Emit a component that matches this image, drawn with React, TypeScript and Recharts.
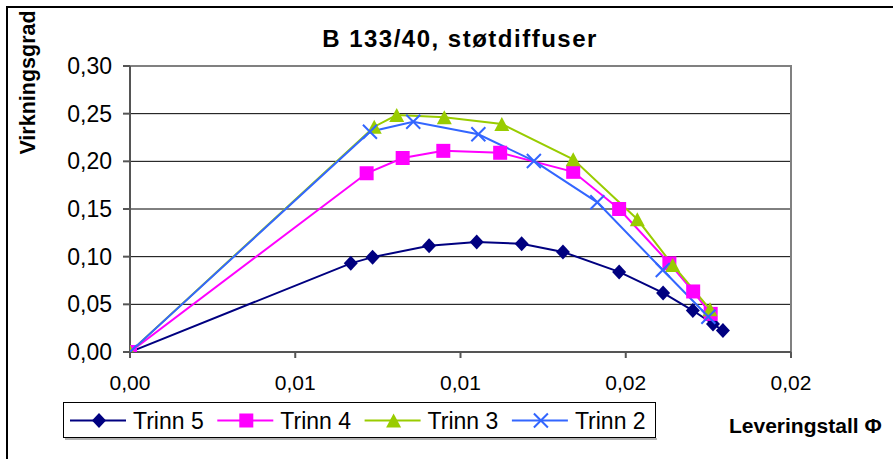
import React from 'react';
import { LineChart, Line, XAxis, YAxis, CartesianGrid, ReferenceArea } from 'recharts';

// Leveringstall (x) and virkningsgrad (y) per trinn
const trinn5X = [0, 0.00668, 0.00734, 0.00905, 0.01049, 0.01185, 0.0131, 0.0148, 0.01613, 0.01703, 0.01764, 0.01794];
const trinn5Y = [0, 0.093, 0.0995, 0.1115, 0.1155, 0.1135, 0.105, 0.084, 0.062, 0.0435, 0.0295, 0.0225];

const trinn4X = [0, 0.00716, 0.00825, 0.00948, 0.0112, 0.01341, 0.0148, 0.01632, 0.01704, 0.01757];
const trinn4Y = [0, 0.1875, 0.2035, 0.211, 0.209, 0.189, 0.15, 0.093, 0.0635, 0.04];

const trinn3X = [0, 0.00739, 0.00807, 0.00951, 0.01125, 0.01341, 0.01535, 0.01642, 0.01755];
const trinn3Y = [0, 0.2363, 0.2486, 0.2462, 0.2392, 0.2021, 0.1392, 0.0913, 0.0448];

const trinn2X = [0, 0.00726, 0.00857, 0.01054, 0.01222, 0.01414, 0.01612, 0.0175];
const trinn2Y = [0, 0.231, 0.2416, 0.2284, 0.2004, 0.157, 0.086, 0.037];

const xTicks = [0, 0.005, 0.01, 0.015, 0.02];
const xTickLabels = ['0,00', '0,01', '0,01', '0,02', '0,02'];
const yTicks = [0, 0.05, 0.1, 0.15, 0.2, 0.25, 0.3];
const yTickLabels = ['0,00', '0,05', '0,10', '0,15', '0,20', '0,25', '0,30'];

const zip = (xs: number[], ys: number[]) => xs.map((x, i) => ({ x, y: ys[i] }));

const series = [
  { name: 'Trinn 5', color: '#000080', shape: 'diamond', data: zip(trinn5X, trinn5Y) },
  { name: 'Trinn 4', color: '#FF00FF', shape: 'square', data: zip(trinn4X, trinn4Y) },
  { name: 'Trinn 3', color: '#99CC00', shape: 'triangle', data: zip(trinn3X, trinn3Y) },
  { name: 'Trinn 2', color: '#3366FF', shape: 'cross', data: zip(trinn2X, trinn2Y) },
];

const FONT = 'Arial, "Liberation Sans", sans-serif';

const nearest = (ticks: number[], labels: string[]) => (v: number) => {
  let best = 0;
  ticks.forEach((t, i) => {
    if (Math.abs(t - v) < Math.abs(ticks[best] - v)) best = i;
  });
  return labels[best];
};

const marker = (shape: string, cx: number, cy: number, color: string, key?: string) => {
  switch (shape) {
    case 'diamond':
      return <path key={key} d={`M${cx},${cy - 7.5}L${cx + 7},${cy}L${cx},${cy + 7.5}L${cx - 7},${cy}Z`} fill={color} />;
    case 'square':
      return <rect key={key} x={cx - 7} y={cy - 7} width={14} height={14} fill={color} />;
    case 'triangle':
      return <path key={key} d={`M${cx},${cy - 7}L${cx + 7.5},${cy + 7}L${cx - 7.5},${cy + 7}Z`} fill={color} />;
    default:
      return (
        <path
          key={key}
          d={`M${cx - 7},${cy - 7}L${cx + 7},${cy + 7}M${cx - 7},${cy + 7}L${cx + 7},${cy - 7}`}
          stroke={color}
          strokeWidth={2}
          fill="none"
        />
      );
  }
};

const App = () => (
  <div style={{ position: 'absolute', left: 0, top: 0, width: 893, height: 459, overflow: 'hidden', background: '#fff' }}>
    <div style={{ position: 'absolute', left: 6, top: 6, width: 1000, height: 1000, border: '2px solid #000' }} />
    <LineChart width={893} height={459} margin={{ top: 66, right: 102, bottom: 67, left: 0 }}>
      <CartesianGrid vertical={false} stroke="#000" strokeWidth={1} />
      <ReferenceArea x1={0} x2={0.02} y1={0} y2={0.3} fill="none" stroke="#808080" strokeWidth={2} />
      <XAxis
        type="number"
        dataKey="x"
        domain={[0, 0.02]}
        ticks={xTicks}
        tickFormatter={nearest(xTicks, xTickLabels)}
        height={40}
        tickSize={6}
        tickMargin={17}
        stroke="#555"
        strokeWidth={2}
        tick={{ fill: '#000', fontSize: 21, fontFamily: FONT }}
        allowDataOverflow
      />
      <YAxis
        type="number"
        domain={[0, 0.3]}
        ticks={yTicks}
        tickFormatter={nearest(yTicks, yTickLabels)}
        width={130}
        tickSize={7}
        tickMargin={11}
        stroke="#555"
        strokeWidth={2}
        tick={{ fill: '#000', fontSize: 23, fontFamily: FONT }}
        allowDataOverflow
      />
      {series.map((s) => (
        <Line
          key={s.name}
          data={s.data}
          dataKey="y"
          name={s.name}
          type="linear"
          stroke={s.color}
          strokeWidth={2}
          isAnimationActive={false}
          activeDot={false}
          dot={(p: any) => marker(s.shape, p.cx, p.cy, s.color, `${s.name}-${p.index}`)}
        />
      ))}
    </LineChart>
    <svg width={893} height={459} style={{ position: 'absolute', left: 0, top: 0, pointerEvents: 'none' }}>
      <text x={460} y={47} textAnchor="middle" fontFamily={FONT} fontWeight="bold" fontSize={24} letterSpacing={1.5}>
        B 133/40, støtdiffuser
      </text>
      <text transform="translate(35,82.5) rotate(-90)" textAnchor="middle" fontFamily={FONT} fontWeight="bold" fontSize={21.5}>
        Virkningsgrad
      </text>
      <text x={729} y={433} fontFamily={FONT} fontWeight="bold" fontSize={21}>
        Leveringstall Φ
      </text>
      <line x1={65} y1={439} x2={657} y2={439} stroke="#999" strokeWidth={1.5} />
      <rect x={63.5} y={402.5} width={592} height={35} fill="#fff" stroke="#000" strokeWidth={1} />
      {series.map((s, i) => {
        const x0 = 70 + i * 147.3;
        return (
          <g key={s.name}>
            <line x1={x0} y1={420.5} x2={x0 + 56} y2={420.5} stroke={s.color} strokeWidth={2} />
            {marker(s.shape, x0 + 29, 420.5, s.color)}
            <text x={x0 + 63} y={428.7} fontFamily={FONT} fontSize={23} fill="#000">
              {s.name}
            </text>
          </g>
        );
      })}
    </svg>
  </div>
);

export default App;
